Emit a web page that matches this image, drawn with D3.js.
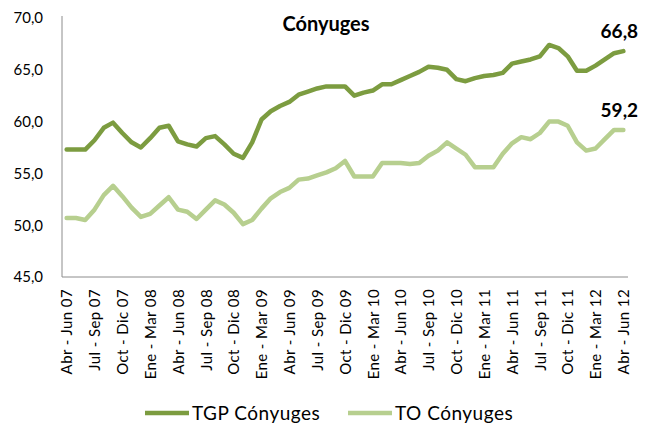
<!DOCTYPE html>
<html>
<head>
<meta charset="utf-8">
<script src="https://cdn.jsdelivr.net/npm/d3@7"></script>
<style>
  body { margin: 0; background: #fff; }
  text { font-family: Lato, "Open Sans", sans-serif; fill: #000; }
</style>
</head>
<body>
<div id="chart"></div>
<script>
// periodos trimestrales moviles, abr-jun 07 a abr-jun 12
var periodos = [
  "Abr - Jun 07","May - Jul 07","Jun - Ago 07","Jul - Sep 07","Ago - Oct 07","Sep - Nov 07",
  "Oct - Dic 07","Nov - Ene 08","Dic - Feb 08","Ene - Mar 08","Feb - Abr 08","Mar - May 08",
  "Abr - Jun 08","May - Jul 08","Jun - Ago 08","Jul - Sep 08","Ago - Oct 08","Sep - Nov 08",
  "Oct - Dic 08","Nov - Ene 09","Dic - Feb 09","Ene - Mar 09","Feb - Abr 09","Mar - May 09",
  "Abr - Jun 09","May - Jul 09","Jun - Ago 09","Jul - Sep 09","Ago - Oct 09","Sep - Nov 09",
  "Oct - Dic 09","Nov - Ene 10","Dic - Feb 10","Ene - Mar 10","Feb - Abr 10","Mar - May 10",
  "Abr - Jun 10","May - Jul 10","Jun - Ago 10","Jul - Sep 10","Ago - Oct 10","Sep - Nov 10",
  "Oct - Dic 10","Nov - Ene 11","Dic - Feb 11","Ene - Mar 11","Feb - Abr 11","Mar - May 11",
  "Abr - Jun 11","May - Jul 11","Jun - Ago 11","Jul - Sep 11","Ago - Oct 11","Sep - Nov 11",
  "Oct - Dic 11","Nov - Ene 12","Dic - Feb 12","Ene - Mar 12","Feb - Abr 12","Mar - May 12",
  "Abr - Jun 12"
];

// etiquetas visibles del eje x
var etiquetas = [
  "Abr - Jun 07","Jul - Sep 07","Oct - Dic 07","Ene - Mar 08","Abr - Jun 08","Jul - Sep 08",
  "Oct - Dic 08","Ene - Mar 09","Abr - Jun 09","Jul - Sep 09","Oct - Dic 09","Ene - Mar 10",
  "Abr - Jun 10","Jul - Sep 10","Oct - Dic 10","Ene - Mar 11","Abr - Jun 11","Jul - Sep 11",
  "Oct - Dic 11","Ene - Mar 12","Abr - Jun 12"
];

var tgp = [
  57.3, 57.3, 57.3, 58.2, 59.4, 59.9, 58.9, 58.0, 57.5, 58.4, 59.4, 59.6,
  58.1, 57.8, 57.6, 58.4, 58.6, 57.8, 56.9, 56.5, 58.0, 60.2, 61.0, 61.5,
  61.9, 62.6, 62.9, 63.2, 63.4, 63.4, 63.4, 62.5, 62.8, 63.0, 63.6, 63.6,
  64.0, 64.4, 64.8, 65.3, 65.2, 65.0, 64.1, 63.9, 64.2, 64.4, 64.5, 64.7,
  65.6, 65.8, 66.0, 66.3, 67.4, 67.1, 66.3, 64.9, 64.9, 65.4, 66.0, 66.6,
  66.8
];

var ocup = [
  50.7, 50.7, 50.5, 51.5, 52.9, 53.8, 52.8, 51.7, 50.8, 51.1, 51.9, 52.7,
  51.5, 51.3, 50.6, 51.5, 52.4, 52.0, 51.2, 50.1, 50.5, 51.6, 52.6, 53.2,
  53.6, 54.4, 54.5, 54.8, 55.1, 55.5, 56.2, 54.7, 54.7, 54.7, 56.0, 56.0,
  56.0, 55.9, 56.0, 56.7, 57.2, 58.0, 57.4, 56.8, 55.6, 55.6, 55.6, 56.9,
  57.9, 58.5, 58.3, 58.9, 60.0, 60.0, 59.6, 58.0, 57.2, 57.4, 58.3, 59.2,
  59.2
];

var yTicks = [45, 50, 55, 60, 65, 70];

var series = [
  {name: "TGP Cónyuges", values: tgp, color: "#7c9c40"},
  {name: "TO Cónyuges", values: ocup, color: "#b7cf8f"}
];

var width = 645, height = 430;
var plotLeft = 62, plotRight = 628, plotTop = 18, plotBottom = 277;

var svg = d3.select("#chart").append("svg")
  .attr("width", width)
  .attr("height", height);

var x = d3.scalePoint()
  .domain(periodos)
  .range([plotLeft, plotRight])
  .padding(0.5);

var y = d3.scaleLinear()
  .domain([45, 70])
  .range([plotBottom, plotTop]);

var fmt = function(v) { return d3.format(".1f")(v).replace(".", ","); };

// eje y
var yAxis = svg.append("g")
  .attr("transform", "translate(" + plotLeft + ",0)")
  .call(d3.axisLeft(y).tickValues(yTicks).tickSize(0).tickPadding(19).tickFormat(fmt));
yAxis.select(".domain").attr("stroke", "#8c8c8c").attr("d", "M0," + (plotTop - 2) + "V" + plotBottom);
yAxis.selectAll("text").style("font-size", "15px").attr("fill", "#000");

// eje x
var xAxis = svg.append("g")
  .attr("transform", "translate(0," + plotBottom + ")")
  .call(d3.axisBottom(x).tickValues(etiquetas).tickSize(0).tickFormat(function(d) { return d; }));
xAxis.select(".domain").attr("stroke", "#8c8c8c").attr("d", "M" + plotLeft + ",0H" + plotRight);
xAxis.selectAll("text")
  .style("font-size", "15px")
  .style("letter-spacing", "0.4px")
  .attr("fill", "#000")
  .attr("text-anchor", "end")
  .attr("transform", "translate(0,12) rotate(-90)")
  .attr("x", 0)
  .attr("y", 0)
  .attr("dy", "0.35em");

// lineas
var line = d3.line()
  .x(function(d, i) { return x(periodos[i]); })
  .y(function(d) { return y(d); });

series.forEach(function(s) {
  svg.append("path")
    .datum(s.values)
    .attr("fill", "none")
    .attr("stroke", s.color)
    .attr("stroke-width", 4.5)
    .attr("stroke-linejoin", "round")
    .attr("stroke-linecap", "round")
    .attr("d", line);

  var last = s.values.length - 1;
  svg.append("text")
    .attr("x", x(periodos[last]) - 4)
    .attr("y", y(s.values[last]) - 13)
    .attr("text-anchor", "middle")
    .style("font-size", "19px")
    .style("font-weight", "bold")
    .text(fmt(s.values[last]));
});

// titulo
svg.append("text")
  .attr("x", 326)
  .attr("y", 31)
  .attr("text-anchor", "middle")
  .style("font-size", "20px")
  .style("font-weight", "bold")
  .text("Cónyuges");

// leyenda
var legendX = [145, 348];
series.forEach(function(s, i) {
  var g = svg.append("g").attr("transform", "translate(" + legendX[i] + ",413)");
  g.append("line")
    .attr("x1", 0).attr("x2", 44)
    .attr("stroke", s.color)
    .attr("stroke-width", 4.5);
  g.append("text")
    .attr("x", 47)
    .attr("dy", "0.35em")
    .style("font-size", "19px")
    .style("letter-spacing", "0.5px")
    .text(s.name);
});
</script>
</body>
</html>
